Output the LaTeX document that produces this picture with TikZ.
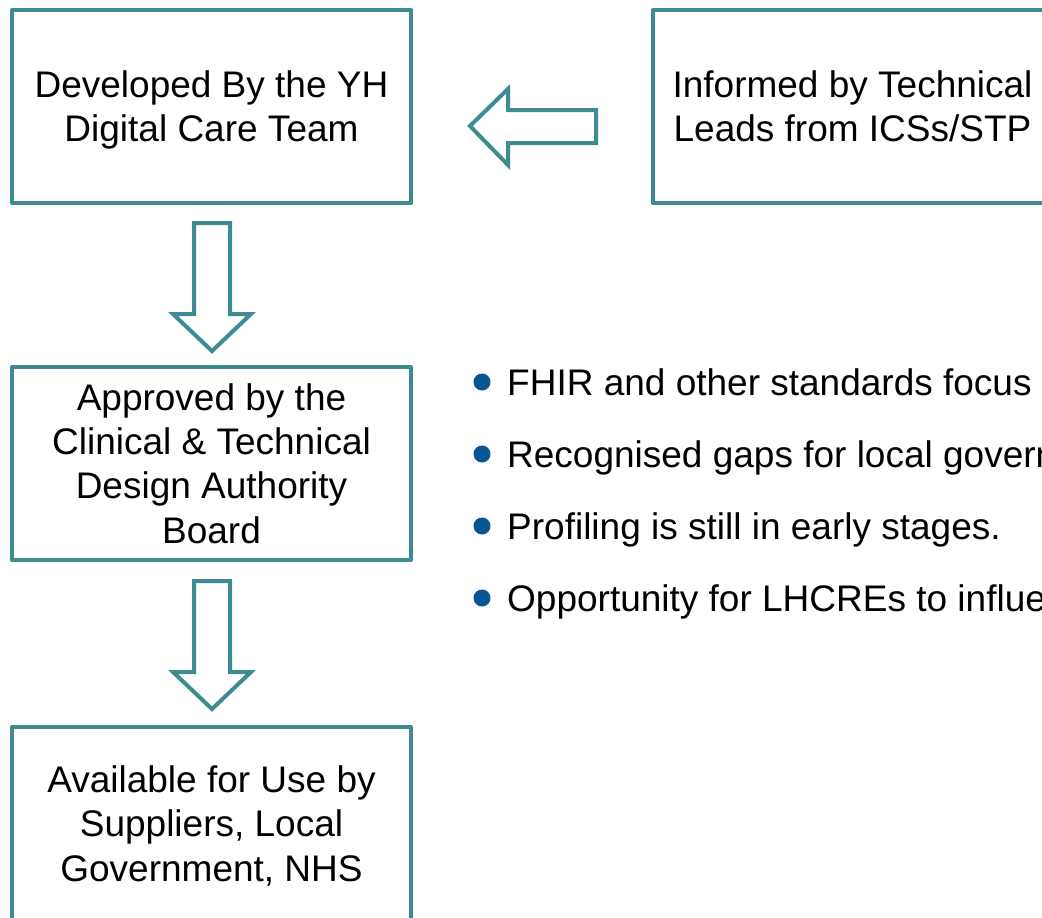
\documentclass[tikz,border=0pt]{standalone}
\usepackage{fontspec}
\setmainfont{Liberation Sans}
\definecolor{teal1}{RGB}{62,139,145}
\definecolor{bulletblue}{RGB}{10,84,150}
\newcommand\topln[1]{\raisebox{0pt}[26.5pt][\depth]{#1}}
\newcommand\botln[1]{\raisebox{0pt}[\height][0pt]{#1}}
\begin{document}
\begin{tikzpicture}[x=1pt,y=-1pt,
  box/.style={draw=teal1,line width=4pt,line join=round,minimum width=399pt,minimum height=193pt,
    inner sep=0pt,outer sep=0pt,align=center,font=\fontsize{37}{44.3}\selectfont,text=black},
  blockarrow/.style={draw=teal1,fill=white,line width=4pt,line join=miter},
  bullettext/.style={anchor=base west,inner sep=0pt,font=\fontsize{37}{44.3}\selectfont,text=black},
  dot/.style={fill=bulletblue}]
\useasboundingbox (0,0) rectangle (1042,918);
\clip (0,0) rectangle (1042,918);
\node[box] (dev) at (211.5,106.5) {\topln{Developed By the YH}\\\botln{Digital Care Team}};
\node[box] (inf) at (852.5,106.5) {\topln{Informed by Technical}\\\botln{Leads from ICSs/STP}};
\node[box] (app) at (211.5,463.5) {\topln{Approved by the}\\Clinical \& Technical\\Design Authority\\\botln{Board}};
\node[box] (ava) at (211.5,823.5) {\topln{Available for Use by}\\Suppliers, Local\\\botln{Government, NHS}};
% left block arrow
\draw[blockarrow] (470,126) -- (508,89) -- (508,110) -- (596,110) -- (596,143) -- (508,143) -- (508,165) -- cycle;
% down block arrows
\foreach \dy in {0,358}{
  \draw[blockarrow] (194,223+\dy) -- (230,223+\dy) -- (230,314+\dy) -- (251,314+\dy) -- (212,351+\dy) -- (173,314+\dy) -- (194,314+\dy) -- cycle;
}
% bullets
\node[bullettext] (b1) at (507,395) {FHIR and other standards focus};
\node[bullettext] (b2) at (507,467) {Recognised gaps for local govern};
\node[bullettext] (b3) at (507,539) {Profiling is still in early stages.};
\node[bullettext] (b4) at (507,611) {Opportunity for LHCREs to influe};
\foreach \b in {b1,b2,b3,b4}{
  \fill[dot] ([xshift=-25pt,yshift=13pt]\b.base west) circle (8.5pt);
}
\end{tikzpicture}
\end{document}
